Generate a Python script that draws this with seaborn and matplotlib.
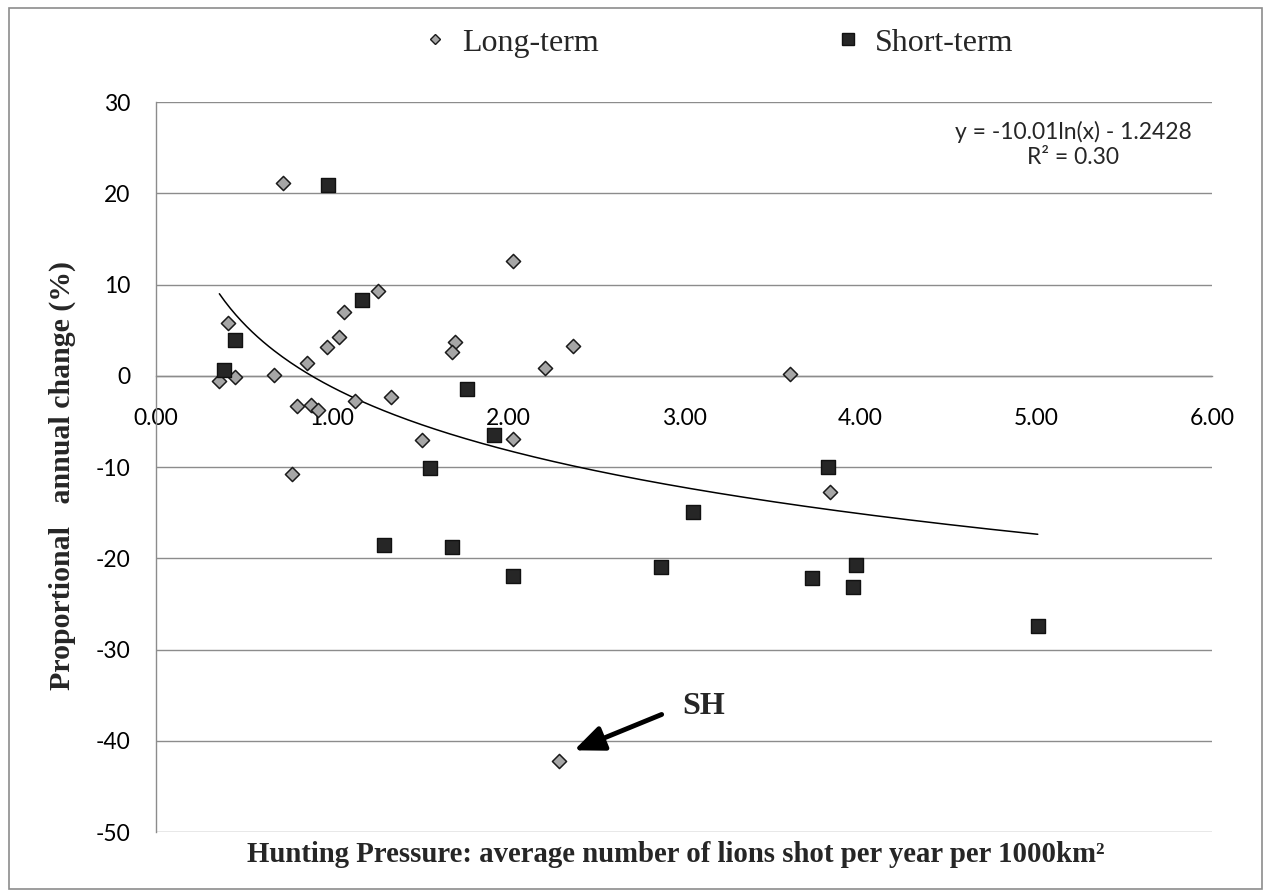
import numpy as np
import pandas as pd
import matplotlib
matplotlib.use("Agg")
import matplotlib.pyplot as plt
import seaborn as sns
from matplotlib.lines import Line2D
from matplotlib.patches import Rectangle

# ---------------- data ----------------
long_x = [0.72, 0.41, 0.36, 0.45, 0.67, 0.86, 0.97, 1.04, 1.07, 1.26, 0.80, 0.88, 0.92,
          1.13, 1.335, 1.51, 1.70, 1.68, 0.77, 2.03, 2.37, 2.21, 2.03, 3.60, 3.83, 2.29]
long_y = [21.1, 5.8, -0.6, -0.1, 0.1, 1.4, 3.1, 4.2, 7.0, 9.3, -3.35, -3.2, -3.8,
          -2.8, -2.3, -7.0, 3.7, 2.6, -10.8, 12.55, 3.25, 0.8, -6.9, 0.15, -12.7, -42.2]
short_x = [0.98, 1.17, 0.45, 0.386, 1.765, 1.555, 1.92, 1.297, 1.68, 2.03, 2.87, 3.05,
           3.816, 3.73, 3.98, 3.96, 5.01]
short_y = [20.9, 8.3, 3.9, 0.6, -1.45, -10.1, -6.5, -18.6, -18.8, -21.9, -21.0, -14.9,
           -10.0, -22.2, -20.7, -23.1, -27.4]

series_labels = ["Long-term", "Short-term"]
trend_coef = -10.01
trend_const = -1.2428
r_squared = 0.30
x_ticks = [0, 1, 2, 3, 4, 5, 6]
y_ticks = [30, 20, 10, 0, -10, -20, -30, -40, -50]
outlier_label = "SH"
outlier_point = (2.29, -42.2)

# ---------------- style ----------------
sns.set_style("white")
plt.rcParams['font.family'] = ['Lato', 'DejaVu Sans']
GRID = "#8c8c8c"
DIAMOND_FILL = "#a6a6a6"
SQUARE_FILL = "#262626"
SERIF = ['Liberation Serif', 'DejaVu Serif']

W, H = 1265, 896
fig = plt.figure(figsize=(W / 100, H / 100), dpi=100)
fig.patch.set_facecolor("white")
ax = fig.add_axes([156 / W, 1 - 832 / H, (1212 - 156) / W, (832 - 102) / H])

long_df = pd.DataFrame({"x": long_x, "y": long_y})
short_df = pd.DataFrame({"x": short_x, "y": short_y})

sns.scatterplot(data=long_df, x="x", y="y", marker="D", s=52, color=DIAMOND_FILL,
                edgecolor="#1a1a1a", linewidth=1.1, ax=ax, zorder=4)
sns.scatterplot(data=short_df, x="x", y="y", marker="s", s=100, color=SQUARE_FILL,
                edgecolor="#111111", linewidth=1.0, ax=ax, zorder=4)

all_x = np.array(long_x + short_x)
xs = np.linspace(all_x.min(), all_x.max(), 300)
ys = trend_coef * np.log(xs) + trend_const
sns.lineplot(x=xs, y=ys, color="black", linewidth=1.1, ax=ax, zorder=3)

ax.set_xlim(0, 6)
ax.set_ylim(-50, 30)
ax.set_xticks(x_ticks)
ax.set_xticklabels([f"{v:.2f}" for v in x_ticks])
ax.set_yticks(y_ticks)
ax.set_yticklabels([str(v) for v in y_ticks])
ax.set_xlabel("")
ax.set_ylabel("")

ax.yaxis.grid(True, color=GRID, linewidth=1.0)
ax.xaxis.grid(False)
ax.set_axisbelow(True)
for s in ["top", "right"]:
    ax.spines[s].set_visible(False)
ax.spines["bottom"].set_position(("data", 0))
for s in ["bottom", "left"]:
    ax.spines[s].set_color(GRID)
    ax.spines[s].set_linewidth(1.0)
ax.tick_params(axis="both", direction="out", length=6, width=1.0, color=GRID,
               labelsize=16.5, labelcolor="black")
ax.tick_params(axis="x", pad=17)
ax.tick_params(axis="y", pad=12.5)

# axis titles
fig.text(62 / W, 1 - 475 / H, "Proportional   annual change (%)", rotation=90,
         ha="center", va="center", family=SERIF, weight="bold", size=21.5)
fig.text(676 / W, 1 - 862 / H,
         "Hunting Pressure: average number of lions shot per year per 1000km²",
         ha="center", va="baseline", family=SERIF, weight="bold", size=20.7)

# trend equation
fig.text(1073 / W, 1 - 132 / H,
         f"y = {trend_coef:.2f}ln(x) - {abs(trend_const):.4f}",
         ha="center", va="center", size=16.5)
fig.text(1073 / W, 1 - 157 / H, f"R² = {r_squared:.2f}",
         ha="center", va="center", size=16.5)

# SH annotation
ax.annotate("", xy=(outlier_point[0] + 0.085, outlier_point[1] + 1.15),
            xytext=(2.873, -37.12),
            arrowprops=dict(arrowstyle="-|>,head_length=0.9,head_width=0.38",
                            lw=3.5, color="black", shrinkA=0, shrinkB=0,
                            mutation_scale=20))
ax.text(3.11, -36.3, outlier_label, ha="center", va="center",
        family=SERIF, weight="bold", size=23)

# legend
handles = [
    Line2D([], [], marker="D", ls="none", ms=5.5, mfc=DIAMOND_FILL, mec="#1a1a1a", mew=1.0),
    Line2D([], [], marker="s", ls="none", ms=9, mfc=SQUARE_FILL, mec="#111111", mew=1.0),
]
fig.legend(handles, series_labels, loc="center", bbox_to_anchor=(717.5 / W, 1 - 43 / H),
           ncol=2, frameon=False, prop={"family": SERIF, "size": 23},
           handlelength=0.8, handletextpad=0.45, columnspacing=7.4, borderpad=0.2)

# outer chart border
fig.add_artist(Rectangle((9 / W, 1 - 889 / H), (1262 - 9) / W, (889 - 8) / H,
                         transform=fig.transFigure, fill=False,
                         edgecolor=GRID, linewidth=1.2))

fig.savefig("out.png", dpi=100)
